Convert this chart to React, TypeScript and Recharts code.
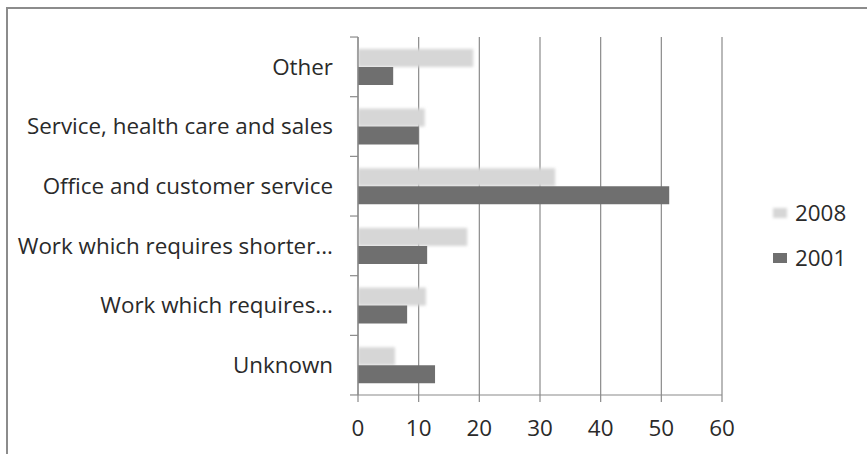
import React from 'react';
import { BarChart, Bar, XAxis, YAxis, CartesianGrid, Legend } from 'recharts';

const categories = [
  'Other',
  'Service, health care and sales',
  'Office and customer service',
  'Work which requires shorter...',
  'Work which requires...',
  'Unknown',
];
const values2008 = [19, 11, 32.5, 18, 11.2, 6.1];
const values2001 = [5.8, 10, 51.3, 11.4, 8.1, 12.7];
const xTicks = [0, 10, 20, 30, 40, 50, 60];
const seriesNames = ['2008', '2001'];
const seriesColors = ['#d6d6d6', '#6f6f6f'];

const data = categories.map((name, i) => ({ name, v2008: values2008[i], v2001: values2001[i] }));

const FONT = '"Open Sans", Lato, sans-serif';
const TEXT = '#2a2a2a';
const AXIS = '#8a8a8a';
const BAND_HALF = 29.8;
const FS = 22.4;

const YTick = (props: any) => {
  const { x, y, payload, index } = props;
  const last = index === categories.length - 1;
  return (
    <g>
      <line x1={x - 8} x2={x} y1={y - BAND_HALF} y2={y - BAND_HALF} stroke={AXIS} strokeWidth={1.2} />
      {last && <line x1={x - 8} x2={x} y1={y + BAND_HALF} y2={y + BAND_HALF} stroke={AXIS} strokeWidth={1.2} />}
      <text x={x - 25} y={y} dy="0.35em" textAnchor="end" fill={TEXT} fontFamily={FONT} fontSize={FS}>
        {payload.value}
      </text>
    </g>
  );
};

const SoftBar = (props: any) => {
  const { x, y, width, height, fill } = props;
  return (
    <g>
      <defs>
        <filter id="softblur" x="-20%" y="-50%" width="140%" height="200%">
          <feGaussianBlur stdDeviation="1.6" />
        </filter>
      </defs>
      <rect x={x} y={y} width={width} height={height} fill={fill} filter="url(#softblur)" />
    </g>
  );
};

const LegendContent = () => (
  <div style={{ fontFamily: FONT, fontSize: FS, color: TEXT }}>
    {seriesNames.map((n, i) => (
      <div key={n} style={{ display: 'flex', alignItems: 'center', height: 45 }}>
        <span
          style={{
            display: 'inline-block',
            width: 14,
            height: 10,
            background: seriesColors[i],
            marginRight: 8,
            filter: i === 0 ? 'blur(1.5px)' : 'none',
          }}
        />
        <span>{n}</span>
      </div>
    ))}
  </div>
);

export default function App() {
  return (
    <div style={{ position: 'absolute', left: 0, top: 0, width: 867, height: 454, background: '#fff', overflow: 'hidden' }}>
      <div
        style={{
          position: 'absolute',
          left: 6,
          top: 7,
          width: 900,
          height: 500,
          borderLeft: '2px solid #8c8c8c',
          borderTop: '2px solid #8c8c8c',
        }}
      />
      <div style={{ position: 'absolute', left: 0, top: 0 }}>
        <BarChart
          width={867}
          height={454}
          data={data}
          layout="vertical"
          margin={{ top: 37, right: 145, bottom: 9, left: 0 }}
          barCategoryGap="20%"
          barGap={0}
        >
          <CartesianGrid horizontal={false} stroke={AXIS} strokeWidth={1.2} />
          <XAxis
            type="number"
            domain={[0, 60]}
            ticks={xTicks}
            height={50}
            axisLine={{ stroke: AXIS, strokeWidth: 1.2 }}
            tickLine={{ stroke: AXIS, strokeWidth: 1.2 }}
            tickSize={7}
            tickMargin={18}
            tick={{ fill: TEXT, fontFamily: FONT, fontSize: FS }}
          />
          <YAxis
            type="category"
            dataKey="name"
            width={358}
            axisLine={{ stroke: AXIS, strokeWidth: 1.2 }}
            tickLine={false}
            tickSize={0}
            tickMargin={0}
            tick={<YTick />}
            interval={0}
          />
          <Legend
            layout="vertical"
            align="center"
            verticalAlign="middle"
            content={<LegendContent />}
            wrapperStyle={{ left: 773, top: 190, width: 94 }}
          />
          <Bar dataKey="v2008" name="2008" fill={seriesColors[0]} shape={<SoftBar />} isAnimationActive={false} />
          <Bar dataKey="v2001" name="2001" fill={seriesColors[1]} isAnimationActive={false} />
        </BarChart>
      </div>
    </div>
  );
}
